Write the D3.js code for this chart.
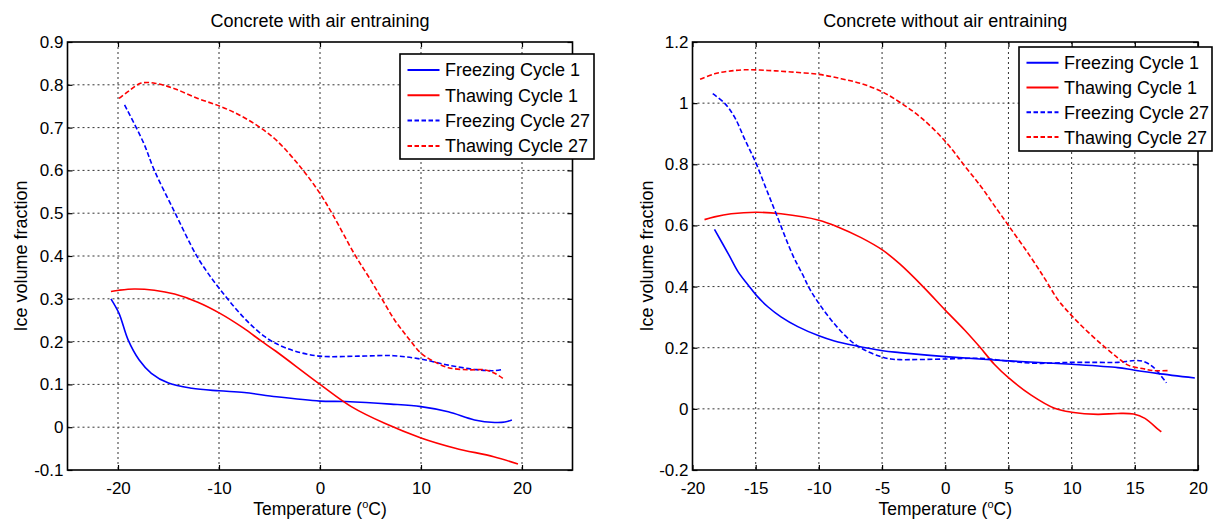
<!DOCTYPE html>
<html>
<head>
<meta charset="utf-8">
<script src="https://cdn.jsdelivr.net/npm/d3@7"></script>
<style>
  body { margin: 0; background: #fff; }
  svg { font-family: "Liberation Sans", Arial, sans-serif; }
</style>
</head>
<body>
<div id="chart"></div>
<script>
// series names, same order in both panels
const seriesNames = ["Freezing Cycle 1", "Thawing Cycle 1", "Freezing Cycle 27", "Thawing Cycle 27"];
const seriesColors = ["#0000ff", "#ff0000", "#0000ff", "#ff0000"];
const seriesDashed = [false, false, true, true];

// left panel: concrete with air entraining  [temperature, ice fraction]
const withAirFreeze1 = [[-20.7,0.300],[-19.9,0.266],[-19,0.204],[-17.9,0.157],[-16.7,0.126],[-15,0.103],[-12.7,0.091],[-10,0.085],[-7.5,0.081],[-4.3,0.071],[0,0.061],[2.5,0.060],[7,0.054],[10,0.048],[12.7,0.036],[15.3,0.017],[17.3,0.011],[18.3,0.012],[19,0.017]];
const withAirThaw1 = [[-20.7,0.317],[-19.9,0.320],[-18.4,0.323],[-16.4,0.320],[-14.4,0.311],[-12.1,0.292],[-9.9,0.266],[-7.6,0.232],[-5.8,0.201],[-4.4,0.178],[0,0.100],[3.1,0.048],[6.4,0.009],[10,-0.025],[13.4,-0.049],[17.2,-0.069],[19.6,-0.086]];
const withAirFreeze27 = [[-19.35,0.753],[-17.5,0.666],[-16.4,0.600],[-14.4,0.503],[-12.25,0.402],[-11.1,0.360],[-9.9,0.322],[-8.45,0.280],[-7,0.243],[-5.5,0.212],[-4.4,0.196],[-2.5,0.178],[0,0.166],[3.8,0.166],[7.3,0.167],[10,0.159],[12.7,0.145],[15.3,0.135],[17.2,0.132],[18.1,0.135]];
const withAirThaw27 = [[-19.9,0.768],[-18.85,0.787],[-17.7,0.804],[-16.2,0.803],[-14.4,0.791],[-12.1,0.768],[-9.9,0.750],[-7.95,0.729],[-6.1,0.703],[-4.3,0.670],[-1.8,0.604],[0,0.546],[1.3,0.495],[3.47,0.402],[4.8,0.352],[6.1,0.301],[7.4,0.250],[8.75,0.208],[10,0.173],[11.4,0.152],[12.7,0.139],[14.7,0.134],[16.3,0.134],[17.3,0.126],[18.1,0.114]];

// right panel: concrete without air entraining
const noAirFreeze1 = [[-18.26,0.587],[-17.1,0.502],[-16.4,0.449],[-15.6,0.405],[-14.96,0.372],[-14.04,0.334],[-13,0.301],[-11.67,0.269],[-10,0.239],[-8.77,0.222],[-7.2,0.207],[-4.95,0.190],[-3.6,0.184],[0,0.171],[5,0.157],[10,0.146],[13.65,0.135],[14.9,0.127],[16.76,0.116],[19.75,0.101]];
const noAirThaw1 = [[-19.05,0.619],[-18.26,0.628],[-16.94,0.638],[-14.96,0.643],[-13,0.638],[-10,0.617],[-8.5,0.595],[-6.66,0.560],[-4.95,0.519],[-3.6,0.474],[-1.76,0.400],[0,0.323],[1.53,0.258],[2.72,0.203],[3.9,0.145],[5,0.102],[6.8,0.045],[8.65,0.002],[10,-0.011],[12.07,-0.018],[13.65,-0.015],[14.9,-0.017],[15.8,-0.031],[16.9,-0.069],[17.1,-0.075]];
const noAirFreeze27 = [[-18.4,1.031],[-17.47,1.000],[-16.68,0.955],[-15.89,0.884],[-14.96,0.802],[-14.17,0.720],[-13.38,0.638],[-12.06,0.502],[-11.27,0.438],[-10.75,0.394],[-10,0.345],[-9.03,0.291],[-7.98,0.242],[-7.06,0.209],[-6,0.185],[-4.95,0.169],[-4.3,0.163],[-3.6,0.161],[0,0.163],[2.85,0.165],[5,0.156],[7.3,0.149],[10,0.152],[12.07,0.152],[13.65,0.152],[15,0.158],[15.7,0.155],[16.5,0.135],[17.5,0.085]];
const noAirThaw27 = [[-19.4,1.078],[-18.26,1.096],[-17.2,1.104],[-15.89,1.109],[-14.04,1.107],[-12.2,1.102],[-10,1.094],[-8.24,1.080],[-6.66,1.064],[-5.08,1.039],[-3.6,1.003],[-1.9,0.952],[0,0.875],[1.53,0.795],[2.85,0.726],[3.9,0.664],[5,0.600],[6.67,0.502],[7.86,0.427],[8.9,0.358],[10,0.305],[11.28,0.252],[12.6,0.203],[13.65,0.167],[14.47,0.143],[15.7,0.131],[16.5,0.125],[17.6,0.125]];

// ticks
const leftXTicks = [-20, -10, 0, 10, 20];
const leftXLabels = ["-20", "-10", "0", "10", "20"];
const leftYTicks = [-0.1, 0, 0.1, 0.2, 0.3, 0.4, 0.5, 0.6, 0.7, 0.8, 0.9];
const leftYLabels = ["-0.1", "0", "0.1", "0.2", "0.3", "0.4", "0.5", "0.6", "0.7", "0.8", "0.9"];
const rightXTicks = [-20, -15, -10, -5, 0, 5, 10, 15, 20];
const rightXLabels = ["-20", "-15", "-10", "-5", "0", "5", "10", "15", "20"];
const rightYTicks = [-0.2, 0, 0.2, 0.4, 0.6, 0.8, 1, 1.2];
const rightYLabels = ["-0.2", "0", "0.2", "0.4", "0.6", "0.8", "1", "1.2"];

const width = 1216;
const height = 520;

const svg = d3.select("#chart")
    .append("svg")
    .attr("width", width)
    .attr("height", height);

const panels = [
    {
        title: "Concrete with air entraining",
        left: 67.5, right: 572.5, top: 42, bottom: 470,
        xDomain: [-25, 25], yDomain: [-0.1, 0.9],
        xTicks: leftXTicks, xLabels: leftXLabels,
        yTicks: leftYTicks, yLabels: leftYLabels,
        series: [withAirFreeze1, withAirThaw1, withAirFreeze27, withAirThaw27],
        yLabelX: 27,
        legend: { x: 400, y: 54, w: 194, h: 105, rowY: 16, rowGap: 25.3 }
    },
    {
        title: "Concrete without air entraining",
        left: 692.5, right: 1198, top: 42, bottom: 470,
        xDomain: [-20, 20], yDomain: [-0.2, 1.2],
        xTicks: rightXTicks, xLabels: rightXLabels,
        yTicks: rightYTicks, yLabels: rightYLabels,
        series: [noAirFreeze1, noAirThaw1, noAirFreeze27, noAirThaw27],
        yLabelX: 652.5,
        legend: { x: 1019, y: 47, w: 193, h: 104, rowY: 15.7, rowGap: 24.8 }
    }
];

panels.forEach(p => {
    const x = d3.scaleLinear().domain(p.xDomain).range([p.left, p.right]);
    const y = d3.scaleLinear().domain(p.yDomain).range([p.bottom, p.top]);
    const g = svg.append("g");

    // GRID (dotted)
    g.selectAll(".vgrid")
        .data(p.xTicks.filter(t => t > p.xDomain[0] && t < p.xDomain[1]))
        .enter().append("line")
        .attr("x1", d => x(d)).attr("x2", d => x(d))
        .attr("y1", p.top).attr("y2", p.bottom)
        .attr("stroke", "#333").attr("stroke-width", 1)
        .attr("stroke-dasharray", "2,3");

    g.selectAll(".hgrid")
        .data(p.yTicks.filter(t => t > p.yDomain[0] + 1e-9 && t < p.yDomain[1] - 1e-9))
        .enter().append("line")
        .attr("x1", p.left).attr("x2", p.right)
        .attr("y1", d => y(d)).attr("y2", d => y(d))
        .attr("stroke", "#333").attr("stroke-width", 1)
        .attr("stroke-dasharray", "2,3");

    // LINES
    const line = d3.line()
        .x(d => x(d[0]))
        .y(d => y(d[1]))
        .curve(d3.curveCatmullRom.alpha(0.5));

    p.series.forEach((s, i) => {
        g.append("path")
            .datum(s)
            .attr("d", line)
            .attr("fill", "none")
            .attr("stroke", seriesColors[i])
            .attr("stroke-width", 1.6)
            .attr("stroke-dasharray", seriesDashed[i] ? "5,2.5" : null);
    });

    // AXES (ticks pointing inward, MATLAB style)
    const fmtX = d => p.xLabels[p.xTicks.indexOf(d)];
    const fmtY = d => p.yLabels[p.yTicks.indexOf(d)];

    g.append("g")
        .attr("transform", `translate(0,${p.bottom})`)
        .call(d3.axisBottom(x).tickValues(p.xTicks).tickFormat(fmtX).tickSize(-5).tickPadding(12));
    g.append("g")
        .attr("transform", `translate(0,${p.top})`)
        .call(d3.axisTop(x).tickValues(p.xTicks).tickFormat("").tickSize(-5));
    g.append("g")
        .attr("transform", `translate(${p.left},0)`)
        .call(d3.axisLeft(y).tickValues(p.yTicks).tickFormat(fmtY).tickSize(-5).tickPadding(4));
    g.append("g")
        .attr("transform", `translate(${p.right},0)`)
        .call(d3.axisRight(y).tickValues(p.yTicks).tickFormat("").tickSize(-5));

    g.selectAll(".domain").remove();
    g.selectAll(".tick line").attr("stroke", "#000").attr("stroke-width", 1.2);
    g.selectAll(".tick text")
        .attr("fill", "#000")
        .style("font-size", "17px")
        .style("font-family", "'Liberation Sans', Arial, sans-serif");

    // box
    g.append("rect")
        .attr("x", p.left).attr("y", p.top)
        .attr("width", p.right - p.left).attr("height", p.bottom - p.top)
        .attr("fill", "none").attr("stroke", "#000").attr("stroke-width", 1.6);

    // TITLE + LABELS
    g.append("text")
        .attr("x", (p.left + p.right) / 2).attr("y", 27)
        .attr("text-anchor", "middle")
        .style("font-size", "18px")
        .text(p.title);

    const xl = g.append("text")
        .attr("x", (p.left + p.right) / 2).attr("y", 515)
        .attr("text-anchor", "middle")
        .style("font-size", "17.5px");
    xl.append("tspan").text("Temperature (");
    xl.append("tspan").text("o").style("font-size", "11px").attr("dy", -7);
    xl.append("tspan").text("C)").attr("dy", 7);

    g.append("text")
        .attr("transform", `translate(${p.yLabelX},${(p.top + p.bottom) / 2}) rotate(-90)`)
        .attr("text-anchor", "middle")
        .style("font-size", "18px")
        .text("Ice volume fraction");

    // LEGEND
    const L = p.legend;
    const lg = g.append("g").attr("transform", `translate(${L.x},${L.y})`);
    lg.append("rect")
        .attr("width", L.w).attr("height", L.h)
        .attr("fill", "#fff").attr("stroke", "#000").attr("stroke-width", 1.6);

    seriesNames.forEach((name, i) => {
        const ry = L.rowY + i * L.rowGap;
        lg.append("line")
            .attr("x1", 7.5).attr("x2", 39.5)
            .attr("y1", ry).attr("y2", ry)
            .attr("stroke", seriesColors[i])
            .attr("stroke-width", 2)
            .attr("stroke-dasharray", seriesDashed[i] ? "4.5,2.5" : null);
        lg.append("text")
            .attr("x", 45).attr("y", ry)
            .attr("dy", "0.36em")
            .style("font-size", "18px")
            .text(name);
    });
});
</script>
</body>
</html>
